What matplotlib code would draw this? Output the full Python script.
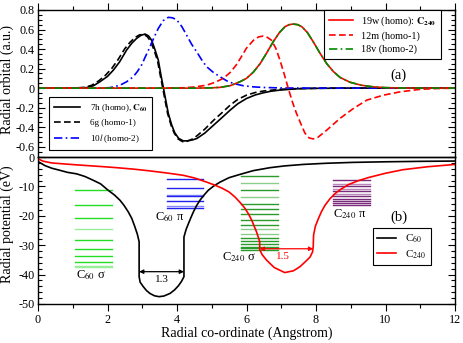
import matplotlib
matplotlib.use("Agg")
import matplotlib.pyplot as plt
from matplotlib.ticker import MultipleLocator, FuncFormatter

plt.rcParams['font.family'] = ['Liberation Serif', 'DejaVu Serif']
plt.rcParams['mathtext.fontset'] = 'stix'
plt.rcParams['axes.unicode_minus'] = False

# ---------------- data: panel (a) radial orbitals ----------------
x_7h = [0, 1.0, 1.4, 1.6, 1.78, 2.0, 2.17, 2.35, 2.55, 2.7, 2.84, 2.96, 3.08, 3.18, 3.27, 3.36,
        3.46, 3.54, 3.61, 3.68, 3.75, 3.85, 3.94, 4.05, 4.18, 4.3, 4.45, 4.57, 4.8, 5.05, 5.3,
        5.53, 5.75, 6.0, 6.25, 6.48, 6.7, 6.96, 7.44, 8.0, 9.0, 12.0]
y_7h = [0, 0, 0.005, 0.025, 0.065, 0.12, 0.185, 0.27, 0.39, 0.46, 0.51, 0.54, 0.554, 0.535, 0.49, 0.40,
        0.29, 0.13, 0.0, -0.13, -0.26, -0.38, -0.46, -0.515, -0.54, -0.54, -0.53, -0.516, -0.46, -0.38, -0.30,
        -0.225, -0.16, -0.106, -0.07, -0.048, -0.032, -0.02, -0.007, -0.002, 0, 0]

x_6g = [0, 1.0, 1.35, 1.55, 1.75, 1.95, 2.12, 2.3, 2.5, 2.65, 2.8, 2.92, 3.03, 3.14, 3.24, 3.34,
        3.44, 3.52, 3.59, 3.66, 3.73, 3.83, 3.92, 4.03, 4.16, 4.28, 4.42, 4.55, 4.8, 5.05, 5.3,
        5.53, 5.75, 6.0, 6.25, 6.48, 6.96, 7.5, 8.5, 12.0]
y_6g = [0, 0, 0.008, 0.03, 0.075, 0.135, 0.2, 0.29, 0.405, 0.47, 0.52, 0.545, 0.55, 0.53, 0.48, 0.39,
        0.28, 0.13, 0.0, -0.13, -0.26, -0.38, -0.46, -0.52, -0.548, -0.545, -0.525, -0.495, -0.42, -0.33, -0.25,
        -0.174, -0.115, -0.072, -0.045, -0.03, -0.012, -0.004, 0, 0]

x_10l = [0, 1.8, 2.07, 2.36, 2.55, 2.74, 2.86, 2.98, 3.1, 3.22, 3.34, 3.46, 3.6, 3.75, 3.87, 3.99,
         4.14, 4.28, 4.42, 4.57, 4.71, 4.85, 5.05, 5.24, 5.43, 5.62, 5.9, 6.2, 6.48, 7.0, 8.0, 12.0]
y_10l = [0, 0, 0.005, 0.03, 0.065, 0.116, 0.17, 0.236, 0.33, 0.42, 0.52, 0.61, 0.69, 0.725, 0.72, 0.70,
         0.63, 0.54, 0.45, 0.37, 0.29, 0.22, 0.16, 0.116, 0.075, 0.048, 0.025, 0.013, 0.007, 0.002, 0, 0]

x_19w = [0, 4.5, 5.0, 5.24, 5.53, 5.81, 6.0, 6.2, 6.39, 6.58, 6.77, 6.95, 7.11, 7.23, 7.35, 7.47,
         7.59, 7.75, 7.92, 8.11, 8.31, 8.5, 8.69, 8.98, 9.3, 9.65, 10.0, 10.5, 12.0]
y_19w = [0, 0, 0.003, 0.008, 0.025, 0.065, 0.1, 0.165, 0.25, 0.36, 0.475, 0.57, 0.63, 0.65, 0.656, 0.65,
         0.63, 0.57, 0.475, 0.36, 0.25, 0.17, 0.11, 0.06, 0.03, 0.013, 0.005, 0.001, 0]
x_18v = x_19w
y_18v = y_19w

x_12m = [0, 3.5, 4.2, 4.5, 4.85, 5.1, 5.33, 5.53, 5.7, 5.85, 6.0, 6.2, 6.35, 6.48, 6.6, 6.72, 6.84,
         6.96, 7.08, 7.2, 7.32, 7.44, 7.54, 7.68, 7.8, 7.92, 8.05, 8.31, 8.5, 8.69, 9.07, 9.46, 9.94,
         10.42, 11.0, 11.5, 12.0]
y_12m = [0, 0, 0.004, 0.012, 0.03, 0.06, 0.1, 0.16, 0.235, 0.32, 0.41, 0.49, 0.525, 0.533, 0.52, 0.49, 0.41,
         0.29, 0.15, 0.0, -0.14, -0.26, -0.345, -0.46, -0.51, -0.52, -0.505, -0.43, -0.37, -0.31, -0.21, -0.123, -0.072,
         -0.038, -0.012, -0.004, 0]

# ---------------- data: panel (b) radial potentials ----------------
x_c60 = [0, 0.2, 0.4, 0.63, 0.85, 1.11, 1.35, 1.59, 1.8, 2.02, 2.2, 2.36, 2.48, 2.6, 2.7, 2.79, 2.86, 2.91,
         2.91, 2.94, 3.03, 3.12, 3.22, 3.35, 3.48, 3.62, 3.8, 3.93, 4.04, 4.13, 4.2,
         4.2, 4.26, 4.33, 4.4, 4.47, 4.56, 4.66, 4.78, 4.9, 5.05, 5.24, 5.5, 5.81, 6.2, 6.68, 7.1, 7.63,
         8.3, 9.07, 10.0, 11.0, 12.0]
y_c60 = [-1.5, -2.9, -3.8, -4.5, -5.2, -5.7, -6.6, -7.9, -9.1, -11.3, -12.9, -14.7, -16.5, -18.7, -20.9, -23.8, -26.3, -28.8,
         -40.7, -42.6, -44.1, -45.4, -46.4, -47.2, -47.5, -47.3, -46.4, -45.2, -43.8, -42.3, -40.7,
         -27.2, -24.7, -22.6, -20.6, -18.7, -16.6, -14.7, -12.9, -11.3, -9.9, -8.5, -7.0, -5.9, -4.6, -3.6, -3.0, -2.5,
         -2.1, -1.8, -1.6, -1.45, -1.35]

x_c240 = [0, 0.15, 0.4, 0.83, 1.3, 1.8, 2.26, 2.75, 3.22, 3.7, 4.18, 4.5, 4.85, 5.1, 5.3, 5.5, 5.67, 5.82,
          5.96, 6.06, 6.15, 6.22, 6.29, 6.34, 6.38,
          6.38, 6.45, 6.58, 6.8, 7.1, 7.35, 7.54, 7.72, 7.83, 7.9, 7.92,
          7.93, 7.98, 8.07, 8.16, 8.26, 8.4, 8.55, 8.72, 8.93, 9.2, 9.5, 10.0, 10.5, 11.2, 12.0]
y_c240 = [-0.6, -1.4, -2.0, -2.4, -2.8, -3.2, -3.6, -4.1, -4.7, -5.4, -6.2, -7.1, -8.5, -9.6, -10.6, -11.9, -13.6, -15.5,
          -17.5, -19.4, -21.5, -23.5, -25.5, -27.3, -28.8,
          -31.5, -33.2, -35.1, -37.6, -39.3, -38.7, -37.3, -35.3, -34.0, -32.3, -30.5,
          -26.6, -23.6, -20.9, -18.5, -16.4, -14.2, -12.4, -10.9, -9.4, -8.1, -7.0, -5.5, -4.3, -3.3, -2.5]

# energy levels
lev_c60s = [-11.1, -16.2, -20.6, -24.5, -28.3, -31.3, -33.7, -35.6, -37.0, -37.5]
lev_c60s_light = [False, False, False, True, False, False, False, False, True, True]
lev_c60p = [-7.3, -10.4, -13.0, -13.3, -15.0, -16.6, -17.2]
lev_c60p_light = [False, False, True, False, False, True, False]
lev_c240s = [-6.4, -8.8, -11.3, -13.6, -15.8, -17.8, -19.5, -21.5, -23.2, -24.5, -26.2, -27.5, -28.6, -29.6,
             -30.5, -31.1, -31.6]
lev_c240s_light = [False, True, False, True, False, False, False, False, False, True, True, False, False, False,
                   False, False, False]
lev_c240p = [-7.9, -9.0, -9.8, -10.7, -11.6, -12.5, -13.3, -14.1, -14.9, -15.6, -16.4]
lev_c240p_light = [False, True, False, True, False, True, False, False, False, False, False]

# ---------------- figure ----------------
fig = plt.figure(figsize=(4.63, 3.43), dpi=100)
L, R = 38 / 463, 455 / 463
top_a, bot_a = 1 - 10 / 343, 1 - 156.5 / 343
bot_b = 1 - 304 / 343
axa = fig.add_axes([L, bot_a, R - L, top_a - bot_a])
axb = fig.add_axes([L, bot_b, R - L, bot_a - bot_b])

lw = 1.2
axa.plot(x_7h, y_7h, color='black', lw=lw, label=r'7h (homo), $\mathbf{C_{60}}$')
axa.plot(x_6g, y_6g, color='black', lw=lw, ls=(0, (4, 2)), label='6g (homo-1)')
axa.plot(x_10l, y_10l, color='#0000ff', lw=lw, ls=(0, (5, 2, 1, 2)), label=r'10$l$ (homo-2)')
l1, = axa.plot(x_19w, y_19w, color='#ff0000', lw=lw, label=r'19w (homo): $\mathbf{C_{240}}$')
l2, = axa.plot(x_12m, y_12m, color='#ff0000', lw=lw, ls=(0, (4, 2)), label='12m (homo-1)')
l3, = axa.plot(x_18v, y_18v, color='#008a00', lw=lw, ls=(0, (5, 2, 1, 2)), label='18v (homo-2)')

axa.set_xlim(0, 12)
axa.set_ylim(-0.7, 0.8)
axa.yaxis.set_major_locator(MultipleLocator(0.2))
axa.yaxis.set_minor_locator(MultipleLocator(0.05))
axa.yaxis.set_major_formatter(FuncFormatter(lambda v, p: '%g' % round(v, 2)))
axa.xaxis.set_major_locator(MultipleLocator(2))
axa.xaxis.set_minor_locator(MultipleLocator(1))
axa.tick_params(axis='x', which='both', top=True, bottom=False, labelbottom=False, direction='out')
axa.tick_params(axis='y', which='both', left=True, right=True, direction='in')
axa.tick_params(which='major', length=5, width=0.8, labelsize=8.7, pad=2.5)
axa.tick_params(which='minor', length=3, width=0.8)

h = axa.get_legend_handles_labels()[0]
leg1 = axa.legend(h[:3], [t.get_label() for t in h[:3]], loc='upper left',
                  bbox_to_anchor=(0.026, 0.406), borderaxespad=0, fontsize=6.6, frameon=True,
                  fancybox=False, edgecolor='black', framealpha=1, handlelength=2.9, borderpad=0.55,
                  labelspacing=0.55, handletextpad=1.0)
leg1.get_frame().set_linewidth(0.8)
axa.add_artist(leg1)
leg2 = axa.legend([l1, l2, l3], [l1.get_label(), l2.get_label(), l3.get_label()], loc='upper left',
                  bbox_to_anchor=(0.686, 1.0), borderaxespad=0, fontsize=7.3, frameon=True,
                  fancybox=False, edgecolor='black', framealpha=1, handlelength=2.4, borderpad=0.45,
                  labelspacing=0.35, handletextpad=0.8)
leg2.get_frame().set_linewidth(0.8)
axa.text(10.36, 0.13, '(a)', fontsize=10.5, ha='center', va='center')

# panel b
axb.axhline(0, color='black', lw=1.0)


def levels(ax, vals, light, x0, x1, c, cl):
    for v, lt in zip(vals, light):
        ax.plot([x0, x1], [v, v], color=cl if lt else c, lw=1.0)


levels(axb, lev_c60s, lev_c60s_light, 1.06, 2.12, '#22dd22', '#99ee99')
levels(axb, lev_c60p, lev_c60p_light, 3.7, 4.76, '#2222ee', '#8888ff')
levels(axb, lev_c240s, lev_c240s_light, 5.84, 6.9, '#2a9a2a', '#8ccc8c')
levels(axb, lev_c240p, lev_c240p_light, 8.48, 9.55, '#7a2a7a', '#b888b8')

p1, = axb.plot(x_c60, y_c60, color='black', lw=lw, label=r'C$_{60}$')
p2, = axb.plot(x_c240, y_c240, color='#ff0000', lw=lw, label=r'C$_{240}$')

axb.annotate('', xy=(2.91, -39.0), xytext=(4.2, -39.0),
             arrowprops=dict(arrowstyle='<|-|>', color='black', lw=0.9, mutation_scale=6,
                             shrinkA=0, shrinkB=0))
axb.text(3.56, -41.8, '1.3', fontsize=8, ha='center', va='center')
axb.annotate('', xy=(6.38, -31.2), xytext=(7.92, -31.2),
             arrowprops=dict(arrowstyle='<|-|>', color='#ff0000', lw=0.9, mutation_scale=6,
                             shrinkA=0, shrinkB=0))
axb.text(7.05, -33.8, '1.5', fontsize=8, ha='center', va='center', color='#ff0000')

axb.text(1.1, -40.3, r'C$_{60}$ σ', fontsize=9, ha='left', va='center')
axb.text(3.37, -20.3, r'C$_{60}$ π', fontsize=9, ha='left', va='center')
axb.text(5.3, -34.0, r'C$_{240}$ σ', fontsize=9, ha='left', va='center')
axb.text(8.5, -19.5, r'C$_{240}$ π', fontsize=9, ha='left', va='center')
axb.text(10.4, -20.4, '(b)', fontsize=10.5, ha='center', va='center')

leg3 = axb.legend([p1, p2], [p1.get_label(), p2.get_label()], loc='upper left',
                  bbox_to_anchor=(0.803, 0.515), borderaxespad=0, fontsize=8, frameon=True,
                  fancybox=False, edgecolor='black', framealpha=1, handlelength=1.7, borderpad=0.4,
                  labelspacing=0.3, handletextpad=0.8)
leg3.get_frame().set_linewidth(0.8)

axb.set_xlim(0, 12)
axb.set_ylim(-50, 0.2)
axb.xaxis.set_major_locator(MultipleLocator(2))
axb.xaxis.set_minor_locator(MultipleLocator(1))
axb.yaxis.set_major_locator(MultipleLocator(10))
axb.yaxis.set_minor_locator(MultipleLocator(2))
axb.tick_params(axis='x', which='both', top=False, bottom=True, direction='out')
axb.tick_params(axis='y', which='both', left=True, right=True, direction='in')
axb.tick_params(which='major', length=5, width=0.8, labelsize=8.7, pad=2.5)
axb.tick_params(which='minor', length=3, width=0.8)

for ax in (axa, axb):
    for s in ax.spines.values():
        s.set_linewidth(1.0)

fig.text(7.5 / 463, 1 - 80 / 343, 'Radial orbital (a.u.)', rotation=90, ha='center', va='center', fontsize=10)
fig.text(7.5 / 463, 1 - 224 / 343, 'Radial potential (eV)', rotation=90, ha='center', va='center', fontsize=10)
fig.text(247 / 463, 1 - 333 / 343, 'Radial co-ordinate (Angstrom)', ha='center', va='center', fontsize=10)

fig.savefig('out.png', dpi=100)
